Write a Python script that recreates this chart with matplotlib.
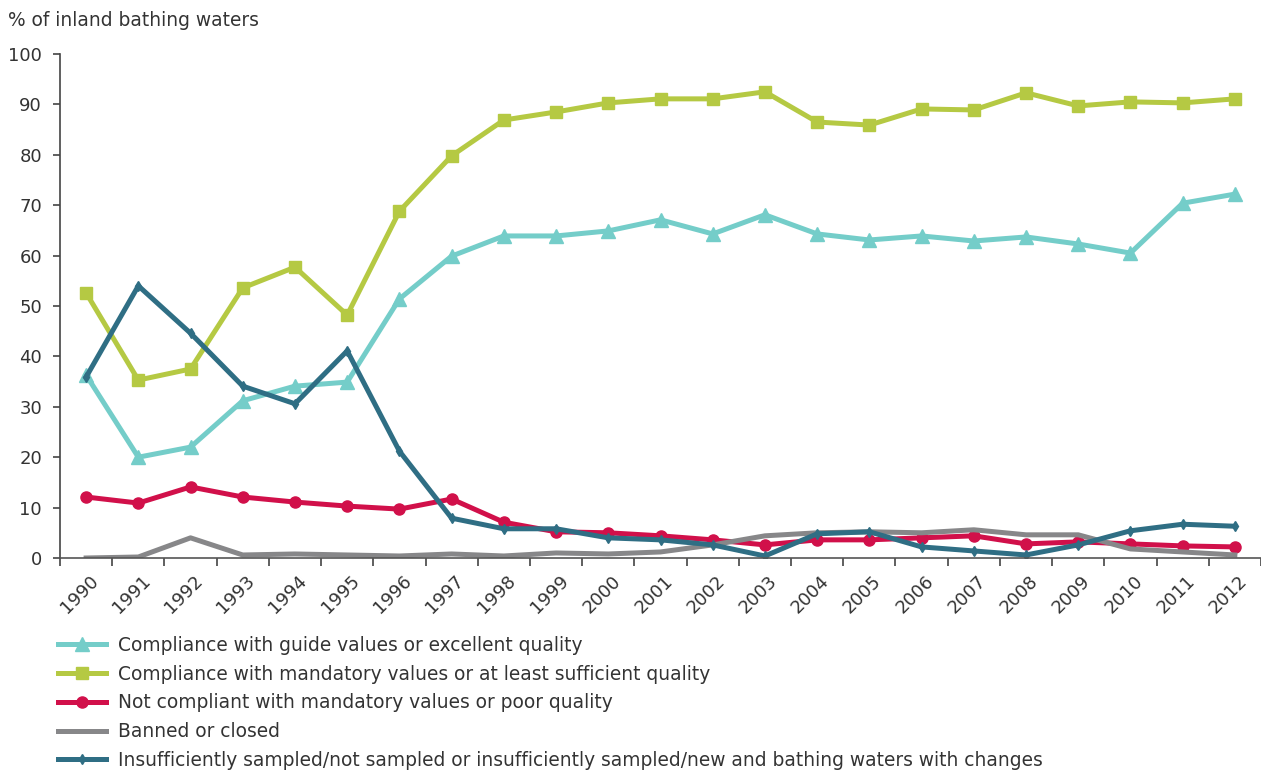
import matplotlib
matplotlib.use("Agg")
import matplotlib.pyplot as plt
import matplotlib.transforms as mtransforms
import numpy as np

years = [str(y) for y in range(1990, 2013)]

guide_excellent = [36.3, 20.0, 22.0, 31.2, 34.1, 34.9, 51.4, 59.9, 63.9, 63.9, 64.9, 67.1,
                   64.3, 68.1, 64.3, 63.1, 63.9, 62.9, 63.7, 62.3, 60.5, 70.4, 72.2]
mandatory_sufficient = [52.6, 35.3, 37.5, 53.6, 57.7, 48.2, 68.8, 79.8, 86.9, 88.5, 90.3, 91.1,
                        91.1, 92.5, 86.5, 85.9, 89.1, 88.9, 92.3, 89.7, 90.5, 90.3, 91.1]
not_compliant = [12.1, 10.9, 14.1, 12.1, 11.1, 10.3, 9.7, 11.7, 7.1, 5.2, 5.0, 4.4,
                 3.6, 2.6, 3.6, 3.6, 4.0, 4.4, 2.8, 3.2, 2.8, 2.4, 2.2]
banned_closed = [0.0, 0.2, 4.0, 0.6, 0.8, 0.6, 0.4, 0.8, 0.4, 1.0, 0.8, 1.2,
                 2.6, 4.4, 5.0, 5.2, 5.0, 5.6, 4.6, 4.6, 1.8, 1.2, 0.6]
insufficient = [35.9, 54.0, 44.6, 34.1, 30.6, 41.1, 21.2, 7.9, 5.8, 5.8, 4.0, 3.6,
                2.6, 0.4, 4.8, 5.2, 2.2, 1.4, 0.6, 2.6, 5.4, 6.7, 6.3]

labels = [
    "Compliance with guide values or excellent quality",
    "Compliance with mandatory values or at least sufficient quality",
    "Not compliant with mandatory values or poor quality",
    "Banned or closed",
    "Insufficiently sampled/not sampled or insufficiently sampled/new and bathing waters with changes",
]
yticks = list(range(0, 101, 10))

TXT = "#333333"
plt.rcParams['font.family'] = ['DejaVu Sans']
plt.rcParams['font.size'] = 13.4

fig = plt.figure(figsize=(12.61, 7.72), dpi=100)
ax = fig.add_axes([60/1261, 1-558/772, 1-60/1261, (558-54)/772])

x = np.arange(len(years))
lw = 3.6
ax.plot(x, guide_excellent, color="#74CDC9", lw=lw, marker="^", ms=9.5, label=labels[0])
ax.plot(x, mandatory_sufficient, color="#B5C943", lw=lw, marker="s", ms=9, label=labels[1])
ax.plot(x, not_compliant, color="#D1104A", lw=lw, marker="o", ms=8, label=labels[2])
ax.plot(x, banned_closed, color="#878789", lw=lw, label=labels[3])
ax.plot(x, insufficient, color="#2F6E84", lw=lw, marker="d", ms=5, label=labels[4])

ax.set_xlim(-0.5, len(years) - 0.5)
ax.set_ylim(0, 100)
ax.set_yticks(yticks)
ax.set_yticklabels([str(v) for v in yticks], fontsize=13)
ax.set_xticks(x)
ax.set_xticklabels(years, rotation=45, ha="right", va="top", rotation_mode="anchor", fontsize=13)
ax.set_xticks(np.arange(-0.5, len(years), 1.0), minor=True)
ax.tick_params(axis="x", which="major", length=0, pad=10, labelcolor=TXT)
ax.tick_params(axis="x", which="minor", length=6, width=1.2, color="#444444", direction="out")
ax.tick_params(axis="y", length=5, width=1.2, color="#444444", pad=8, labelcolor=TXT)
offset = mtransforms.ScaledTranslation(3/100, 0, fig.dpi_scale_trans)
for lab in ax.get_xticklabels():
    lab.set_transform(lab.get_transform() + offset)

for s in ["top", "right"]:
    ax.spines[s].set_visible(False)
ax.spines["left"].set_color("#444444")
ax.spines["left"].set_linewidth(1.2)
ax.spines["bottom"].set_color("#555555")
ax.spines["bottom"].set_linewidth(1.2)

fig.text(8/1261, 1-20/772, "% of inland bathing waters", ha="left", va="center", color=TXT)

leg = fig.legend(loc="upper left", bbox_to_anchor=(58/1261, 1-636/772), frameon=False,
                 handlelength=2.6, handletextpad=0.6, labelspacing=0.52,
                 borderaxespad=0, borderpad=0)
for t in leg.get_texts():
    t.set_color(TXT)

fig.savefig("out.png", dpi=100)
